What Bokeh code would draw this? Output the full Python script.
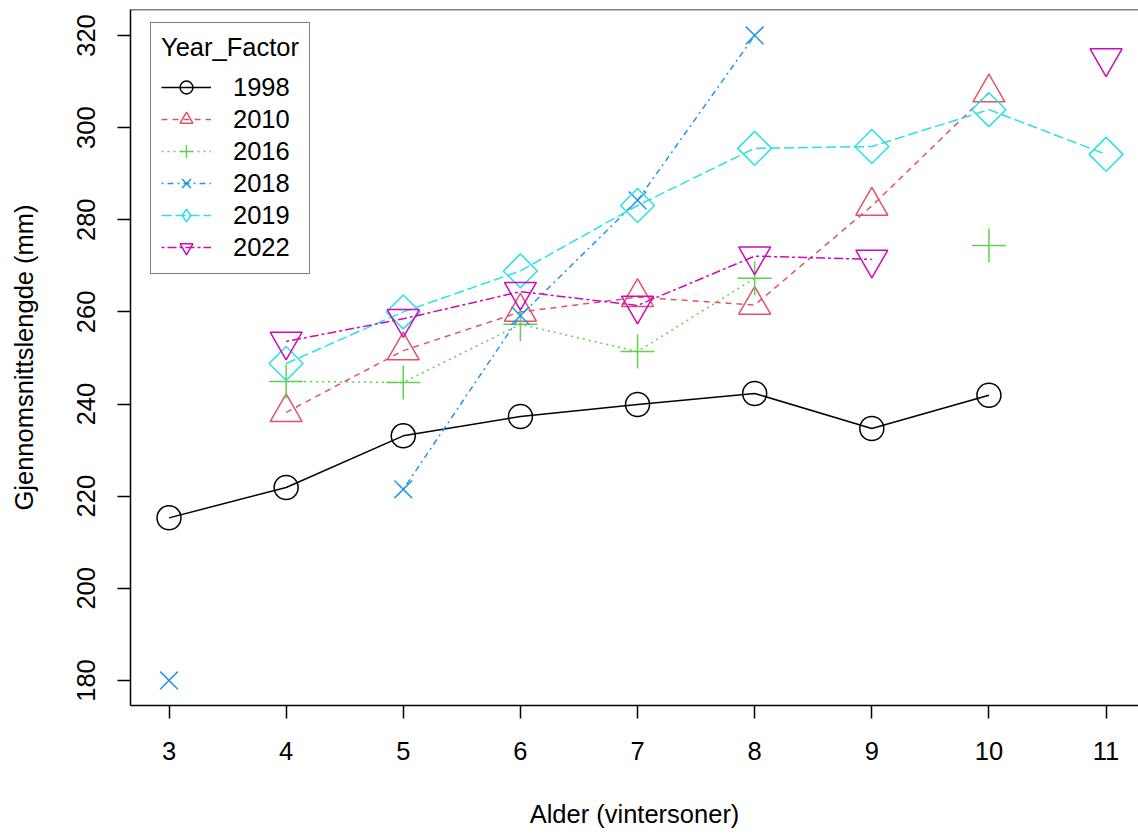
import numpy as np
from bokeh.plotting import figure
from bokeh.models import FixedTicker, Legend, LegendItem, Span
from bokeh.embed import file_html
from bokeh.resources import INLINE

nan = np.nan

# ---- data ----
ages = [3, 4, 5, 6, 7, 8, 9, 10, 11]
years = ["1998", "2010", "2016", "2018", "2019", "2022"]
len_1998 = [215.3, 221.9, 233.1, 237.3, 239.9, 242.3, 234.7, 241.9, nan]
len_2010 = [nan, 238.2, 251.6, 260.0, 263.2, 261.5, 283.0, 307.6, nan]
len_2016 = [nan, 244.9, 244.7, 257.3, 251.4, 267.3, nan, 274.4, nan]
len_2018 = [180.0, nan, 221.5, 259.2, 284.2, 320.0, nan, nan, nan]
len_2019 = [nan, 248.8, 260.0, 268.9, 283.1, 295.5, 295.9, 303.9, 294.2]
len_2022 = [nan, 253.6, 258.5, 264.4, 261.4, 272.1, 271.4, nan, 315.1]
series = [len_1998, len_2010, len_2016, len_2018, len_2019, len_2022]
y_ticks = [180, 200, 220, 240, 260, 280, 300, 320]

# ---- styles ----
colors = ["black", "#DF536B", "#61D04F", "#2297E6", "#28E2E5", "#CD0BBC"]
dashes = ["solid", "6 5", "2 4", "2 4 6 4", "10 4", "3 3 9 3"]
markers = ["circle", "triangle", "cross", "x", "square", "inverted_triangle"]
legend_markers = ["circle", "triangle", "cross", "x", "diamond", "inverted_triangle"]
msizes = [24, 32, 34, 25, 24, 32]
angles = [0, 0, 0, 0, np.pi / 4, 0]

FONT = "Liberation Sans"
FS = "25.5px"

Y0, Y1 = 174.57, 325.64
p = figure(width=1138, height=835, x_range=(2.6713, 11.277), y_range=(Y0, Y1),
           output_backend="svg", toolbar_location=None,
           min_border_left=130, min_border_right=0, min_border_top=9,
           min_border_bottom=130)
p.outline_line_color = None
p.xgrid.visible = False
p.ygrid.visible = False

items = []
for yr, vals, c, d, m, lm, s, a in zip(years, series, colors, dashes, markers,
                                       legend_markers, msizes, angles):
    lr = p.line(ages, vals, line_color=c, line_width=1.5, line_dash=d)
    sr = p.scatter(ages, vals, marker=m, size=s, angle=a, line_color=c,
                   fill_color=None, line_width=1.5)
    rends = [lr, sr]
    if lm != m:
        # legend-only symbol (legend glyphs are drawn unrotated)
        hr = p.scatter(ages, vals, marker=lm, size=s, line_color=c,
                       fill_color=None, line_width=1.5, visible=False)
        rends = [lr, hr]
    items.append(LegendItem(label=yr, renderers=rends))

p.add_layout(Span(location=Y1, dimension="width", line_color="black", line_width=1.5))

for ax in (p.xaxis, p.yaxis):
    ax.axis_line_color = "black"
    ax.axis_line_width = 1.5
    ax.major_tick_line_color = "black"
    ax.major_tick_line_width = 1.5
    ax.major_tick_out = 13
    ax.major_tick_in = 0
    ax.minor_tick_line_color = None
    ax.major_label_text_font = FONT
    ax.major_label_text_font_size = FS
    ax.major_label_text_color = "black"
    ax.axis_label_text_font = FONT
    ax.axis_label_text_font_size = FS
    ax.axis_label_text_font_style = "normal"
    ax.axis_label_text_color = "black"

p.xaxis.ticker = FixedTicker(ticks=ages)
p.yaxis.ticker = FixedTicker(ticks=y_ticks)
p.xaxis.axis_label = "Alder (vintersoner)"
p.yaxis.axis_label = "Gjennomsnittslengde (mm)"
p.xaxis.major_label_standoff = 23
p.xaxis.axis_label_standoff = 37
p.yaxis.major_label_orientation = "vertical"
p.yaxis.major_label_standoff = 22
p.yaxis.axis_label_standoff = 37

legend = Legend(items=items, location=(20, 431), title="Year_Factor",
                title_text_font=FONT, title_text_font_size=FS,
                title_text_font_style="normal", title_text_color="black",
                title_standoff=9,
                label_text_font=FONT, label_text_font_size=FS,
                label_text_color="black", label_standoff=22,
                glyph_width=50, glyph_height=32, label_height=32, spacing=0,
                padding=10, margin=0,
                border_line_color="black", border_line_width=1.5,
                background_fill_color="white", background_fill_alpha=1.0)
p.add_layout(legend, "center")

open("out.html", "w").write(file_html(p, INLINE))
